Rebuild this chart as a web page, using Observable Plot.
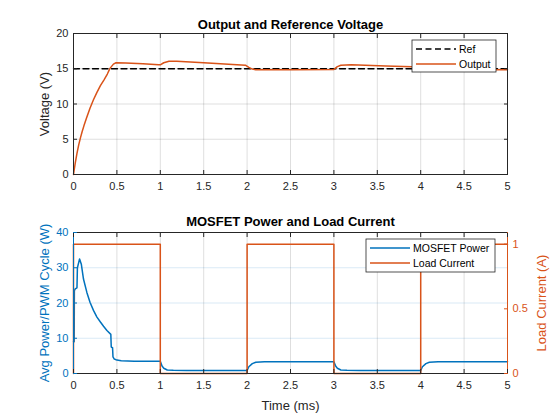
<!DOCTYPE html>
<html><head><meta charset="utf-8">
<script src="https://cdn.jsdelivr.net/npm/d3@7"></script>
<script src="https://cdn.jsdelivr.net/npm/@observablehq/plot@0.6"></script>
<style>
body{margin:0;background:#fff;}
#chart{width:560px;height:420px;}
#chart svg{display:block;}
#chart svg g[aria-label="x-axis label"] text,
#chart svg g[aria-label="y-axis label"] text{font-size:13px;}
</style></head><body><div id="chart"></div>
<script>
// ---- data ----
const xTicks = [0, 0.5, 1, 1.5, 2, 2.5, 3, 3.5, 4, 4.5, 5];
const voltTicks = [0, 5, 10, 15, 20];
const powTicks = [0, 10, 20, 30, 40];
const curTicks = [0, 0.5, 1];

const refT = [0, 5];
const refV = [15, 15];

const outT = [0, 0.02, 0.04, 0.06, 0.08, 0.1, 0.12, 0.15, 0.19, 0.23, 0.27, 0.31, 0.35, 0.39, 0.42, 0.46, 0.49, 0.6, 0.8, 0.98, 1.0, 1.04, 1.1, 1.19, 1.5, 1.98, 2.02, 2.06, 2.1, 2.5, 3.0, 3.04, 3.08, 3.2, 3.6, 4.0, 4.04, 4.08, 4.5, 5.0];
const outV = [0, 1.6, 3.0, 4.2, 5.2, 6.1, 6.9, 8.0, 9.4, 10.6, 11.65, 12.6, 13.4, 14.25, 15.05, 15.66, 15.85, 15.8, 15.7, 15.55, 15.55, 15.85, 16.05, 16.05, 15.85, 15.5, 15.2, 14.95, 14.85, 14.85, 14.9, 15.3, 15.5, 15.55, 15.4, 15.25, 15.05, 14.9, 14.85, 14.85];

const powT = [0, 0.008, 0.01, 0.02, 0.04, 0.045, 0.07, 0.09, 0.115, 0.154, 0.19, 0.23, 0.27, 0.31, 0.346, 0.385, 0.43, 0.435, 0.45, 0.455, 0.47, 0.5, 0.55, 0.7, 1.0, 1.02, 1.04, 1.08, 1.15, 1.3, 2.0, 2.02, 2.06, 2.1, 2.2, 2.4, 3.0, 3.02, 3.04, 3.08, 3.15, 3.3, 4.0, 4.02, 4.06, 4.1, 4.2, 4.4, 5.0];
const powP = [9, 9, 23.5, 24, 24.3, 30, 32.5, 31, 26.8, 23, 20.2, 17.9, 16, 14.6, 13.4, 12.2, 11.1, 7.5, 7.3, 4.7, 4.1, 3.8, 3.6, 3.5, 3.5, 2.1, 1.5, 1.0, 0.9, 0.85, 0.85, 1.9, 2.8, 3.2, 3.3, 3.3, 3.3, 2.1, 1.5, 1.0, 0.9, 0.85, 0.85, 1.9, 2.8, 3.2, 3.3, 3.3, 3.3];

const curT = [0, 0, 1, 1, 2, 2, 3, 3, 4, 4, 5];
const curA = [0, 1, 1, 0, 0, 1, 1, 0, 0, 1, 1];

const powMax = 40;
const curMax = 1.09;
const k = powMax / curMax;

// ---- styles ----
const font = "'Liberation Sans', Arial, Helvetica, sans-serif";
const ink = "#262626";
const blue = "#0072BD";
const orange = "#D95319";

const ref = refT.map((t, i) => ({t, v: refV[i]}));
const out = outT.map((t, i) => ({t, v: outV[i]}));
const pow = powT.map((t, i) => ({t, p: powP[i]}));
const cur = curT.map((t, i) => ({t, a: curA[i]}));
const fmt = d => String(d);

const topChart = Plot.plot({
  width: 560, height: 210, marginTop: 33, marginBottom: 36, marginLeft: 73, marginRight: 53,
  style: {fontFamily: font, fontSize: "11px", color: ink, background: "white"},
  x: {domain: [0, 5]}, y: {domain: [0, 20]},
  marks: [
    Plot.gridX(xTicks.slice(1, -1), {stroke: "#000", strokeOpacity: 0.13}),
    Plot.gridY(voltTicks.slice(1, -1), {stroke: "#000", strokeOpacity: 0.13}),
    Plot.line(ref, {x: "t", y: "v", stroke: "#000", strokeWidth: 1.3, strokeDasharray: "6,3.5"}),
    Plot.line(out, {x: "t", y: "v", stroke: orange, strokeWidth: 1.5}),
    Plot.frame({stroke: ink}),
    Plot.axisX(xTicks, {tickSize: -4, tickPadding: 12, tickFormat: fmt, label: null, color: ink}),
    Plot.axisX(xTicks, {anchor: "top", tickSize: -4, tickFormat: () => "", label: null, color: ink}),
    Plot.axisY(voltTicks, {tickSize: -4, tickPadding: 9, tickFormat: fmt, label: "Voltage (V)", labelAnchor: "center", labelArrow: "none", labelOffset: 34, color: ink}),
    Plot.axisY(voltTicks, {anchor: "right", tickSize: -4, tickFormat: () => "", label: null, color: ink}),
    Plot.text(["Output and Reference Voltage"], {frameAnchor: "top", dy: -9, lineAnchor: "middle", fontWeight: "bold", fontSize: 13, fill: "#000"})
  ]
});

const botChart = Plot.plot({
  width: 560, height: 210, marginTop: 22, marginBottom: 47, marginLeft: 73, marginRight: 53,
  style: {fontFamily: font, fontSize: "11px", color: ink, background: "white"},
  x: {domain: [0, 5]}, y: {domain: [0, powMax]},
  marks: [
    Plot.gridX(xTicks.slice(1, -1), {stroke: "#000", strokeOpacity: 0.13}),
    Plot.gridY(powTicks.slice(1, -1), {stroke: blue, strokeOpacity: 0.15}),
    Plot.line(pow, {x: "t", y: "p", stroke: blue, strokeWidth: 1.5}),
    Plot.line(cur, {x: "t", y: d => d.a * k, stroke: orange, strokeWidth: 1.5}),
    Plot.ruleY([0], {stroke: ink}),
    Plot.ruleY([powMax], {stroke: ink}),
    Plot.ruleX([0], {stroke: blue}),
    Plot.ruleX([5], {stroke: orange}),
    Plot.axisX(xTicks, {tickSize: -4, tickPadding: 12, tickFormat: fmt, label: "Time (ms)", labelAnchor: "center", labelArrow: "none", labelOffset: 36, color: ink}),
    Plot.axisX(xTicks, {anchor: "top", tickSize: -4, tickFormat: () => "", label: null, color: ink}),
    Plot.axisY(powTicks, {tickSize: -4, tickPadding: 9, tickFormat: fmt, label: "Avg Power/PWM Cycle (W)", labelAnchor: "center", labelArrow: "none", labelOffset: 34, color: blue}),
    Plot.axisY(curTicks.map(c => c * k), {anchor: "right", tickSize: -4, tickPadding: 9, tickFormat: d => fmt(Math.round(d / k * 10) / 10), label: "Load Current (A)", labelAnchor: "center", labelArrow: "none", labelOffset: 38, color: orange}),
    Plot.text(["MOSFET Power and Load Current"], {frameAnchor: "top", dy: -11, lineAnchor: "middle", fontWeight: "bold", fontSize: 13, fill: "#000"})
  ]
});

function legend(svg, x, y, w, h, items) {
  const g = d3.select(svg).append("g").attr("font-family", font).attr("font-size", 10.5).attr("text-anchor", "start");
  g.append("rect").attr("x", x).attr("y", y).attr("width", w).attr("height", h)
    .attr("fill", "white").attr("stroke", ink).attr("stroke-width", 0.8);
  items.forEach((it, i) => {
    const yy = y + 9 + i * 15;
    g.append("line").attr("x1", x + 4).attr("x2", x + 44).attr("y1", yy).attr("y2", yy)
      .attr("stroke", it.color).attr("stroke-width", it.width || 1.5).attr("stroke-dasharray", it.dash || null);
    g.append("text").attr("x", x + 47).attr("y", yy).attr("dy", "0.35em").attr("fill", "#000").attr("text-anchor", "start").text(it.label);
  });
}

const c = document.getElementById("chart");
c.appendChild(topChart);
c.appendChild(botChart);
legend(topChart, 412, 40, 84, 32, [
  {label: "Ref", color: "#000", dash: "6,3.5", width: 1.3},
  {label: "Output", color: orange}
]);
legend(botChart, 366, 29, 129, 33, [
  {label: "MOSFET Power", color: blue},
  {label: "Load Current", color: orange}
]);
</script>
</body></html>
